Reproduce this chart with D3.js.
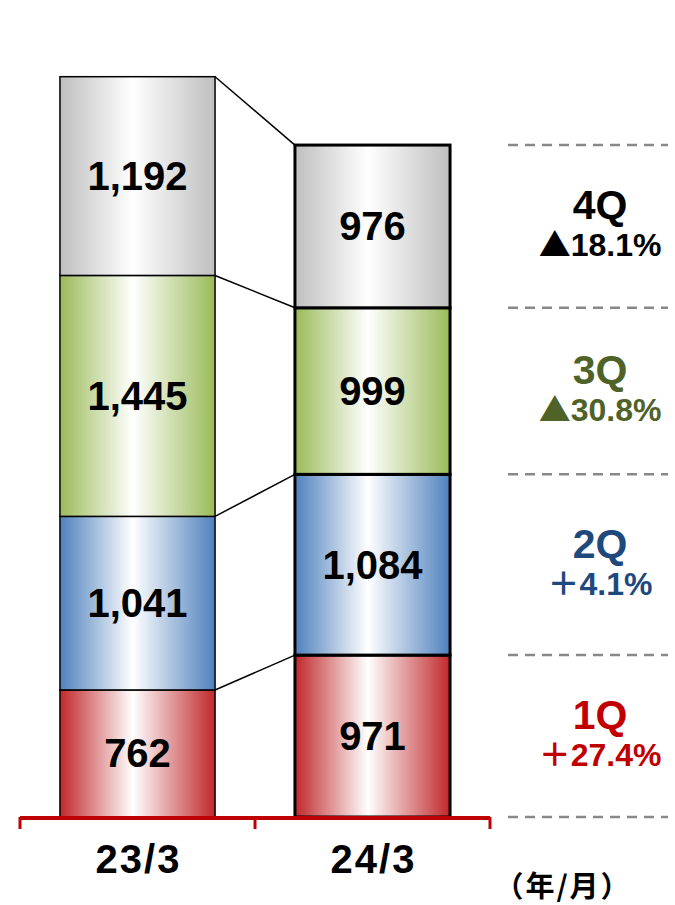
<!DOCTYPE html>
<html>
<head>
<meta charset="utf-8">
<script src="https://cdn.jsdelivr.net/npm/d3@7"></script>
<style>
  html, body { margin: 0; padding: 0; background: #fff; }
  svg { display: block; }
  .val { font-family: "Liberation Sans", Arial, sans-serif; font-weight: bold; font-size: 40px; fill: #000; }
  .cat { font-family: "Liberation Sans", Arial, sans-serif; font-weight: bold; font-size: 40px; fill: #000; letter-spacing: 2px; }
  .qname { font-family: "Liberation Sans", Arial, sans-serif; font-weight: bold; font-size: 41px; }
  .pct { font-family: "Liberation Sans", "Noto Sans CJK JP", sans-serif; font-weight: bold; font-size: 32px; }
  .sym { font-family: "Noto Sans CJK JP", sans-serif; font-weight: bold; }
  .unit { font-family: "Noto Sans CJK JP", sans-serif; font-weight: bold; font-size: 29px; letter-spacing: 2px; }
</style>
</head>
<body>
<svg id="chart"></svg>
<script>
  // data
  let categories = ["23/3", "24/3"]
  let quarters = ["1Q", "2Q", "3Q", "4Q"]
  let q1 = [762, 971]
  let q2 = [1041, 1084]
  let q3 = [1445, 999]
  let q4 = [1192, 976]
  let changes = ["＋27.4%", "＋4.1%", "▲30.8%", "▲18.1%"]

  let width = 675
  let height = 905
  let baseline = 817

  let colors = {
    "1Q": "#c0282b",
    "2Q": "#4f81bd",
    "3Q": "#9bbb59",
    "4Q": "#bfbfbf"
  }
  let textColors = {
    "1Q": "#c00000",
    "2Q": "#1f497d",
    "3Q": "#4f6228",
    "4Q": "#000000"
  }

  let svg = d3.select("#chart")
              .attr("width", width)
              .attr("height", height)

  let rows = categories.map((c, i) => ({
    cat: c, "1Q": q1[i], "2Q": q2[i], "3Q": q3[i], "4Q": q4[i]
  }))

  let series = d3.stack().keys(quarters)(rows)

  let xScale = d3.scaleBand()
                 .domain(categories)
                 .range([20, 490])
                 .paddingInner(0.34)
                 .paddingOuter(0.17)

  let yScale = d3.scaleLinear()
                 .domain([0, 4900])
                 .range([baseline, 0])

  // gradients
  let defs = svg.append("defs")
  quarters.forEach(q => {
    let g = defs.append("linearGradient")
                .attr("id", "grad" + q)
                .attr("x1", "0%").attr("x2", "100%")
                .attr("y1", "0%").attr("y2", "0%")
    g.append("stop").attr("offset", "0%").attr("stop-color", colors[q])
    g.append("stop").attr("offset", "47%").attr("stop-color", "#ffffff")
    g.append("stop").attr("offset", "100%").attr("stop-color", colors[q])
  })

  // connector lines
  let c0 = categories[0], c1 = categories[1]
  svg.append("g").selectAll("line")
     .data(series)
     .enter()
     .append("line")
       .attr("x1", xScale(c0) + xScale.bandwidth())
       .attr("x2", xScale(c1))
       .attr("y1", d => yScale(d[0][1]))
       .attr("y2", d => yScale(d[1][1]))
       .attr("stroke", "#000")
       .attr("stroke-width", 1.5)

  // bars
  let layers = svg.append("g").selectAll("g")
                  .data(series)
                  .enter()
                  .append("g")

  layers.selectAll("rect")
        .data(d => d.map(p => ({ key: d.key, p: p })))
        .enter()
        .append("rect")
          .attr("x", d => xScale(d.p.data.cat))
          .attr("width", xScale.bandwidth())
          .attr("y", d => yScale(d.p[1]))
          .attr("height", d => yScale(d.p[0]) - yScale(d.p[1]))
          .attr("fill", d => "url(#grad" + d.key + ")")
          .attr("stroke", "#000")
          .attr("stroke-width", d => d.p.data.cat === c1 ? 3 : 1.5)

  layers.selectAll("text")
        .data(d => d.map(p => ({ key: d.key, p: p })))
        .enter()
        .append("text")
          .attr("class", "val")
          .attr("x", d => xScale(d.p.data.cat) + xScale.bandwidth() / 2)
          .attr("y", d => (yScale(d.p[0]) + yScale(d.p[1])) / 2)
          .attr("text-anchor", "middle")
          .attr("dominant-baseline", "central")
          .text(d => d3.format(",")(d.p[1] - d.p[0]))

  // dashed guide lines at 24/3 boundaries
  let bounds = [0].concat(series.map(s => s[1][1]))
  svg.append("g").selectAll("line")
     .data(bounds)
     .enter()
     .append("line")
       .attr("x1", 508).attr("x2", 668)
       .attr("y1", d => yScale(d))
       .attr("y2", d => yScale(d))
       .attr("stroke", "#888")
       .attr("stroke-width", 2.5)
       .attr("stroke-dasharray", "10,7")

  // quarter labels on the right
  let labels = svg.append("g").selectAll("g")
                  .data(series)
                  .enter()
                  .append("g")
                  .attr("transform", d => `translate(600,${(yScale(d[1][0]) + yScale(d[1][1])) / 2})`)

  labels.append("text")
        .attr("class", "qname")
        .attr("text-anchor", "middle")
        .attr("y", -7)
        .attr("fill", d => textColors[d.key])
        .text(d => d.key)

  let pct = labels.append("text")
        .attr("class", "pct")
        .attr("text-anchor", "middle")
        .attr("y", 30)
        .attr("fill", d => textColors[d.key])
  pct.append("tspan")
     .attr("class", "sym")
     .text((d, i) => changes[i].slice(0, 1))
  pct.append("tspan")
     .text((d, i) => changes[i].slice(1))

  // axis
  let axis = svg.append("g")
  axis.append("line")
      .attr("x1", 20).attr("x2", 490)
      .attr("y1", baseline + 1).attr("y2", baseline + 1)
      .attr("stroke", "#c00000")
      .attr("stroke-width", 4)
  let tickX = [20, xScale(c1) - xScale.step() * xScale.paddingInner() / 2, 490]
  axis.selectAll(".tick")
      .data(tickX)
      .enter()
      .append("line")
        .attr("x1", d => d).attr("x2", d => d)
        .attr("y1", baseline).attr("y2", baseline + 12)
        .attr("stroke", "#c00000")
        .attr("stroke-width", 3)

  svg.append("g").selectAll("text")
     .data(categories)
     .enter()
     .append("text")
       .attr("class", "cat")
       .attr("text-anchor", "middle")
       .attr("x", d => xScale(d) + xScale.bandwidth() / 2 + 1)
       .attr("y", 873)
       .text(d => d)

  svg.append("text")
     .attr("class", "unit")
     .attr("x", 563)
     .attr("y", 897)
     .attr("text-anchor", "middle")
     .text("（年/月）")
</script>
</body>
</html>
